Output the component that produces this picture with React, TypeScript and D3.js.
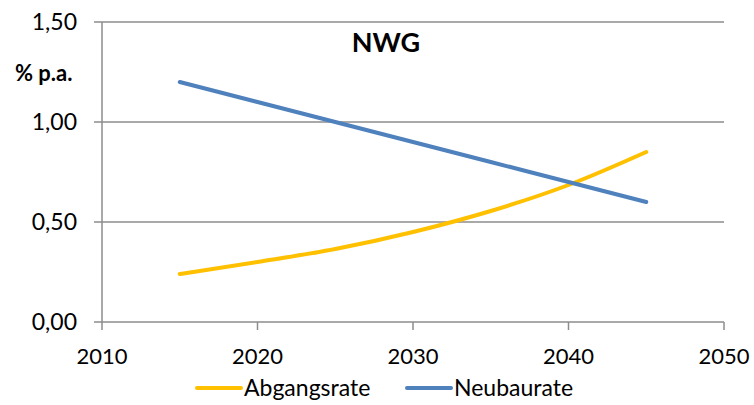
import * as d3 from "d3";

const years = [2015, 2020, 2025, 2030, 2035, 2040, 2045];
const abgangsrate = [0.24, 0.3, 0.365, 0.45, 0.555, 0.685, 0.85];
const neubaurate = [1.2, 1.1, 1.0, 0.9, 0.8, 0.7, 0.6];
const xTicks = [2010, 2020, 2030, 2040, 2050];
const yTicks = [0, 0.5, 1.0, 1.5];

const series = [
  { name: "Abgangsrate", values: abgangsrate, color: "#FFC000" },
  { name: "Neubaurate", values: neubaurate, color: "#4F81BD" },
];

const width = 754;
const height = 405;
const font = "Lato, 'Open Sans', sans-serif";

export default function App() {
  const x = d3.scaleLinear().domain([2010, 2050]).range([102, 724]);
  const y = d3.scaleLinear().domain([0, 1.5]).range([322, 22]);
  const fmt = (v: number) => d3.format(".2f")(v).replace(".", ",");

  const line = d3
    .line<number>()
    .x((_, i) => x(years[i]))
    .y(d => y(d))
    .curve(d3.curveMonotoneX);

  return (
    <svg
      width={width}
      height={height}
      style={{ position: "absolute", left: 0, top: 0, background: "white" }}
      fontFamily={font}
    >
      {/* grid + y ticks */}
      {yTicks.map(t => (
        <g key={t}>
          <line x1={94} x2={724} y1={y(t)} y2={y(t)} stroke="#8c8c8c" strokeWidth={1.5} />
          <text x={77} y={y(t)} dy="0.36em" textAnchor="end" fontSize={23} fill="#000">
            {fmt(t)}
          </text>
        </g>
      ))}
      <line x1={x(2010)} x2={x(2010)} y1={y(1.5)} y2={y(0)} stroke="#8c8c8c" strokeWidth={1.5} />
      {xTicks.map(t => (
        <g key={t}>
          <line x1={x(t)} x2={x(t)} y1={y(0)} y2={y(0) + 8} stroke="#8c8c8c" strokeWidth={1.5} />
          <text x={x(t)} y={364} textAnchor="middle" fontSize={22} fill="#000">
            {t}
          </text>
        </g>
      ))}

      {series.map(s => (
        <path
          key={s.name}
          d={line(s.values) ?? undefined}
          fill="none"
          stroke={s.color}
          strokeWidth={4}
          strokeLinecap="round"
        />
      ))}

      <text x={386} y={52} textAnchor="middle" fontSize={27} fontWeight="bold">
        NWG
      </text>
      <text x={15} y={81} fontSize={22} fontWeight="bold">
        % p.a.
      </text>

      {/* legend */}
      {series.map((s, i) => {
        const lx = i === 0 ? 197 : 407;
        return (
          <g key={s.name}>
            <line x1={lx} x2={lx + 44} y1={388} y2={388} stroke={s.color} strokeWidth={4} strokeLinecap="round" />
            <text x={lx + 47} y={396} fontSize={23} fill="#000">
              {s.name}
            </text>
          </g>
        );
      })}
    </svg>
  );
}
